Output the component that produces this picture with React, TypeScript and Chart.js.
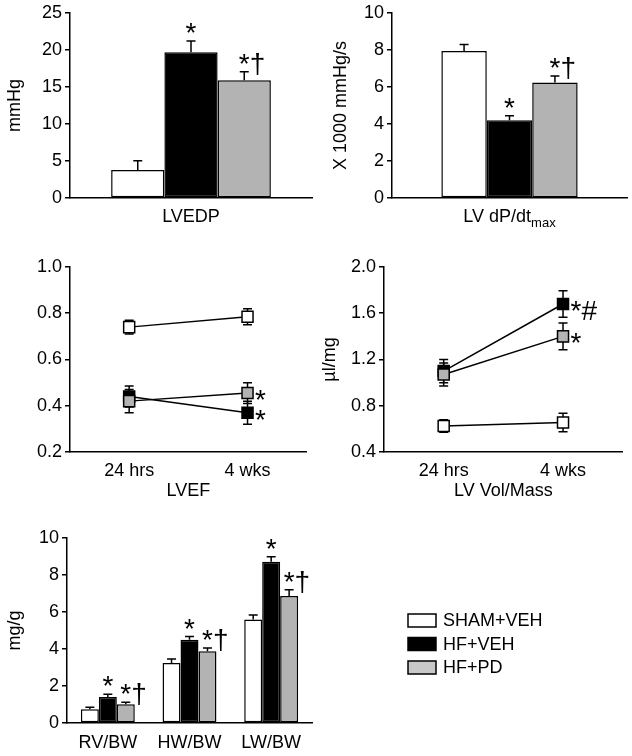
import React, { useEffect, useRef } from 'react';
import { Chart, registerables } from 'chart.js';

Chart.register(...registerables);

const FONT = '"Liberation Sans", Arial, Helvetica, sans-serif';

// ---------------- data ----------------
const groupLabels = ['SHAM+VEH', 'HF+VEH', 'HF+PD'];

// LVEDP (mmHg)
const lvedpCategory = ['LVEDP'];
const lvedpMean = [3.8, 19.7, 15.9];
const lvedpSem = [1.25, 1.5, 1.15];
const lvedpMarks = ['', '*', '*†'];
const lvedpAxis = [0, 25, 5];

// LV dP/dt max (x 1000 mmHg/s)
const dpdtCategory = ['LV dP/dtmax'];
const dpdtMean = [7.95, 4.2, 6.25];
const dpdtSem = [0.35, 0.25, 0.35];
const dpdtMarks = ['', '*', '*†'];
const dpdtAxis = [0, 10, 2];

// LVEF over time
const timeLabels = ['24 hrs', '4 wks'];
const lvefSham = [0.74, 0.785];
const lvefShamSem = [0.03, 0.035];
const lvefHfVeh = [0.44, 0.37];
const lvefHfVehSem = [0.045, 0.05];
const lvefHfPd = [0.42, 0.455];
const lvefHfPdSem = [0.05, 0.045];
const lvefMarks = [['', ''], ['', '*'], ['', '*']];
const lvefAxis = [0.2, 1.0, 0.2];

// LV Vol/Mass (µl/mg)
const volSham = [0.625, 0.655];
const volShamSem = [0.055, 0.08];
const volHfVeh = [1.1, 1.68];
const volHfVehSem = [0.1, 0.115];
const volHfPd = [1.07, 1.4];
const volHfPdSem = [0.1, 0.115];
const volMarks = [['', ''], ['', '*#'], ['', '*']];
const volAxis = [0.4, 2.0, 0.4];

// Organ weight / body weight (mg/g)
const organLabels = ['RV/BW', 'HW/BW', 'LW/BW'];
const organSham = [0.75, 3.25, 5.6];
const organShamSem = [0.1, 0.21, 0.24];
const organHfVeh = [1.4, 4.5, 8.72];
const organHfVehSem = [0.15, 0.17, 0.26];
const organHfPd = [1.02, 3.88, 6.87];
const organHfPdSem = [0.1, 0.18, 0.33];
const organMarks = [['', '', ''], ['*', '*', '*'], ['*†', '*†', '*†']];
const organAxis = [0, 10, 2];

// ---------------- styles ----------------
const barColors = ['#ffffff', '#000000', '#b3b3b3'];
const legendColors = ['#ffffff', '#000000', '#c8c8c8'];
const MARK_SIZE = 28;

interface Frame { w: number; h: number; L: number; T: number; R: number; B: number }

function makeScales(
  f: Frame,
  yAxis: number[],
  decimals: number,
  yTitle: string,
  yTitlePad: number,
  xTickPad: number,
  xTitle: string,
  xTitlePad: number,
  hideXTicks = false,
) {
  const font = { family: FONT, size: 18 };
  return {
    x: {
      type: 'category',
      offset: true,
      grid: { display: false, drawTicks: false },
      border: { display: true, color: '#000', width: 1.5 },
      ticks: {
        color: '#000',
        font,
        padding: xTickPad,
        maxRotation: 0,
        autoSkip: false,
        callback: function (this: any, v: any) {
          return hideXTicks ? '' : this.getLabelForValue(v);
        },
      },
      title: xTitle
        ? { display: true, text: xTitle, color: '#000', font, padding: { top: 0, bottom: xTitlePad } }
        : { display: false },
      afterFit: (s: any) => {
        s.height = f.h - f.B;
        s.paddingLeft = 0;
        s.paddingRight = 0;
      },
    },
    y: {
      type: 'linear',
      min: yAxis[0],
      max: yAxis[1],
      ticks: {
        stepSize: yAxis[2],
        color: '#000',
        font,
        padding: 3,
        callback: (v: any) => Number(v).toFixed(decimals),
      },
      grid: { drawOnChartArea: false, drawTicks: true, tickLength: 5, color: '#000', lineWidth: 1.5 },
      border: { display: true, color: '#000', width: 1.5 },
      title: yTitle
        ? { display: true, text: yTitle, color: '#000', font, padding: { top: yTitlePad, bottom: 0 } }
        : { display: false },
      afterFit: (s: any) => {
        s.width = f.L;
        s.paddingTop = 0;
        s.paddingBottom = 0;
      },
    },
  };
}

function errMarksPlugin(kind: 'bar' | 'line', sems: number[][], marks: string[][]) {
  const drawErr = (chart: any, both: boolean) => {
    const ctx = chart.ctx;
    const ys = chart.scales.y;
    ctx.save();
    ctx.strokeStyle = '#000';
    ctx.lineWidth = 1.5;
    chart.data.datasets.forEach((ds: any, i: number) => {
      const meta = chart.getDatasetMeta(i);
      meta.data.forEach((el: any, j: number) => {
        const v = ds.data[j] as number;
        const s = sems[i][j];
        const x = el.x;
        const yTop = ys.getPixelForValue(v + s);
        const yBot = both ? ys.getPixelForValue(v - s) : el.y;
        ctx.beginPath();
        ctx.moveTo(x, yBot);
        ctx.lineTo(x, yTop);
        ctx.moveTo(x - 4.5, yTop);
        ctx.lineTo(x + 4.5, yTop);
        if (both) {
          ctx.moveTo(x - 4.5, yBot);
          ctx.lineTo(x + 4.5, yBot);
        }
        ctx.stroke();
      });
    });
    ctx.restore();
  };
  const drawMarks = (chart: any) => {
    const ctx = chart.ctx;
    const ys = chart.scales.y;
    ctx.save();
    ctx.font = `${MARK_SIZE}px ${FONT}`;
    ctx.fillStyle = '#000';
    ctx.textAlign = 'left';
    ctx.textBaseline = 'alphabetic';
    const starW = ctx.measureText('*').width;
    chart.data.datasets.forEach((ds: any, i: number) => {
      const meta = chart.getDatasetMeta(i);
      meta.data.forEach((el: any, j: number) => {
        const m = marks[i][j];
        if (!m) return;
        if (kind === 'bar') {
          const yTop = ys.getPixelForValue((ds.data[j] as number) + sems[i][j]);
          ctx.fillText(m, el.x - starW / 2, yTop + 1);
        } else {
          ctx.fillText(m, el.x + 13 - starW / 2, el.y + 16);
        }
      });
    });
    ctx.restore();
  };
  return {
    id: 'errMarks',
    beforeDatasetsDraw(chart: any) {
      if (kind === 'line') drawErr(chart, true);
    },
    afterDatasetsDraw(chart: any) {
      if (kind === 'bar') drawErr(chart, false);
      drawMarks(chart);
    },
  };
}

const subscriptLabelPlugin = {
  id: 'subLabel',
  afterDraw(chart: any) {
    const ctx = chart.ctx;
    const xs = chart.scales.x;
    const x = xs.getPixelForValue(0);
    const main = 'LV dP/dt';
    const sub = 'max';
    ctx.save();
    ctx.fillStyle = '#000';
    ctx.textBaseline = 'alphabetic';
    ctx.textAlign = 'left';
    ctx.font = `18px ${FONT}`;
    const w1 = ctx.measureText(main).width;
    ctx.font = `13px ${FONT}`;
    const w2 = ctx.measureText(sub).width;
    const start = x - (w1 + w2) / 2;
    const base = xs.top + 24;
    ctx.font = `18px ${FONT}`;
    ctx.fillText(main, start, base);
    ctx.font = `13px ${FONT}`;
    ctx.fillText(sub, start + w1, base + 5);
    ctx.restore();
  },
};

const legendPlugin = {
  id: 'sideLegend',
  afterDraw(chart: any) {
    const ctx = chart.ctx;
    ctx.save();
    ctx.font = `18px ${FONT}`;
    ctx.textBaseline = 'middle';
    ctx.textAlign = 'left';
    groupLabels.forEach((lab, i) => {
      const top = 109 + i * 23.5;
      ctx.fillStyle = legendColors[i];
      ctx.fillRect(408, top, 28, 13);
      ctx.strokeStyle = '#000';
      ctx.lineWidth = 1.5;
      ctx.strokeRect(408, top, 28, 13);
      ctx.fillStyle = '#000';
      ctx.fillText(lab, 443, top + 7.5);
    });
    ctx.restore();
  },
};

function barConfig(
  f: Frame,
  labels: string[],
  series: number[][],
  sems: number[][],
  marks: string[][],
  yAxis: number[],
  yTitle: string,
  yTitlePad: number,
  xTickPad: number,
  catPct: number,
  extraPlugins: any[] = [],
  hideXTicks = false,
) {
  return {
    type: 'bar',
    data: {
      labels,
      datasets: groupLabels.map((label, i) => ({
        label,
        data: series[i],
        backgroundColor: barColors[i],
        borderColor: '#000',
        borderWidth: 1.5,
        borderSkipped: false,
        categoryPercentage: catPct,
        barPercentage: 1,
      })),
    },
    options: {
      responsive: false,
      maintainAspectRatio: false,
      animation: false,
      events: [],
      layout: { padding: { left: 0, top: f.T, right: f.w - f.R, bottom: 0 } },
      plugins: { legend: { display: false }, tooltip: { enabled: false } },
      scales: makeScales(f, yAxis, 0, yTitle, yTitlePad, xTickPad, '', 0, hideXTicks),
    },
    plugins: [errMarksPlugin('bar', sems, marks), ...extraPlugins],
  };
}

function lineConfig(
  f: Frame,
  series: number[][],
  sems: number[][],
  marks: string[][],
  yAxis: number[],
  yTitle: string,
  yTitlePad: number,
  xTitle: string,
) {
  const orders = [2, 1, 0];
  return {
    type: 'line',
    data: {
      labels: timeLabels,
      datasets: groupLabels.map((label, i) => ({
        label,
        data: series[i],
        borderColor: '#000',
        borderWidth: 1.5,
        tension: 0,
        pointStyle: 'rect',
        pointRadius: 7.8,
        pointBorderWidth: 1.5,
        pointBackgroundColor: barColors[i],
        pointBorderColor: '#000',
        order: orders[i],
      })),
    },
    options: {
      responsive: false,
      maintainAspectRatio: false,
      animation: false,
      events: [],
      layout: { padding: { left: 0, top: f.T, right: f.w - f.R, bottom: 0 } },
      plugins: { legend: { display: false }, tooltip: { enabled: false } },
      scales: makeScales(f, yAxis, 1, yTitle, yTitlePad, 8, xTitle, 3),
    },
    plugins: [errMarksPlugin('line', sems, marks)],
  };
}

function Panel({ left, top, frame, make }: { left: number; top: number; frame: Frame; make: () => any }) {
  const ref = useRef<HTMLCanvasElement>(null);
  useEffect(() => {
    const chart = new Chart(ref.current as HTMLCanvasElement, make());
    return () => chart.destroy();
  }, []);
  return (
    <canvas
      ref={ref}
      width={frame.w}
      height={frame.h}
      style={{ position: 'absolute', left, top, width: frame.w, height: frame.h }}
    />
  );
}

const fA: Frame = { w: 316, h: 250, L: 70, T: 13, R: 312, B: 198 };
const fB: Frame = { w: 316, h: 250, L: 76, T: 13, R: 311, B: 198 };
const fC: Frame = { w: 316, h: 250, L: 70, T: 12, R: 312, B: 197 };
const fD: Frame = { w: 316, h: 250, L: 68, T: 12, R: 312, B: 197 };
const fE: Frame = { w: 632, h: 251, L: 67, T: 33, R: 312, B: 218 };

export default function App() {
  return (
    <div style={{ position: 'absolute', left: 0, top: 0, width: 632, height: 756, background: '#fff' }}>
      <Panel
        left={0}
        top={0}
        frame={fA}
        make={() =>
          barConfig(
            fA,
            lvedpCategory,
            lvedpMean.map((v) => [v]),
            lvedpSem.map((s) => [s]),
            lvedpMarks.map((m) => [m]),
            lvedpAxis,
            'mmHg',
            4,
            8,
            0.66,
          )
        }
      />
      <Panel
        left={316}
        top={0}
        frame={fB}
        make={() =>
          barConfig(
            fB,
            dpdtCategory,
            dpdtMean.map((v) => [v]),
            dpdtSem.map((s) => [s]),
            dpdtMarks.map((m) => [m]),
            dpdtAxis,
            'X 1000 mmHg/s',
            14,
            8,
            0.58,
            [subscriptLabelPlugin],
            true,
          )
        }
      />
      <Panel
        left={0}
        top={255}
        frame={fC}
        make={() =>
          lineConfig(
            fC,
            [lvefSham, lvefHfVeh, lvefHfPd],
            [lvefShamSem, lvefHfVehSem, lvefHfPdSem],
            lvefMarks,
            lvefAxis,
            '',
            0,
            'LVEF',
          )
        }
      />
      <Panel
        left={316}
        top={255}
        frame={fD}
        make={() =>
          lineConfig(
            fD,
            [volSham, volHfVeh, volHfPd],
            [volShamSem, volHfVehSem, volHfPdSem],
            volMarks,
            volAxis,
            'µl/mg',
            3,
            'LV Vol/Mass',
          )
        }
      />
      <Panel
        left={0}
        top={505}
        frame={fE}
        make={() =>
          barConfig(
            fE,
            organLabels,
            [organSham, organHfVeh, organHfPd],
            [organShamSem, organHfVehSem, organHfPdSem],
            organMarks,
            organAxis,
            'mg/g',
            4,
            9,
            0.66,
            [legendPlugin],
          )
        }
      />
    </div>
  );
}
